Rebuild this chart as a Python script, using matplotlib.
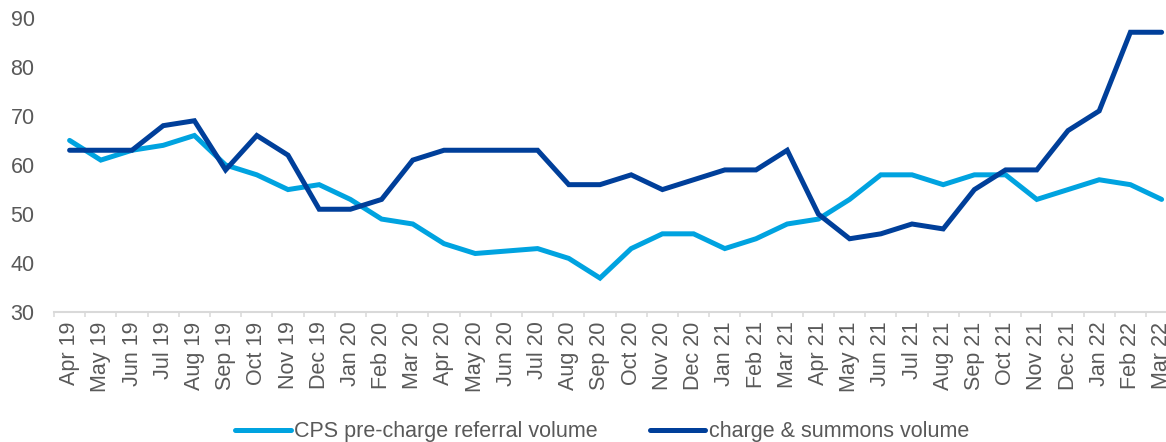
import matplotlib.pyplot as plt
import numpy as np
from matplotlib.ticker import FixedLocator

# Monthly volumes, Apr 2019 - Mar 2022
months = ['Apr 19', 'May 19', 'Jun 19', 'Jul 19', 'Aug 19', 'Sep 19',
          'Oct 19', 'Nov 19', 'Dec 19', 'Jan 20', 'Feb 20', 'Mar 20',
          'Apr 20', 'May 20', 'Jun 20', 'Jul 20', 'Aug 20', 'Sep 20',
          'Oct 20', 'Nov 20', 'Dec 20', 'Jan 21', 'Feb 21', 'Mar 21',
          'Apr 21', 'May 21', 'Jun 21', 'Jul 21', 'Aug 21', 'Sep 21',
          'Oct 21', 'Nov 21', 'Dec 21', 'Jan 22', 'Feb 22', 'Mar 22']

cps_referrals = [65, 61, 63, 64, 66, 60, 58, 55, 56, 53, 49, 48,
                 44, 42, 42.5, 43, 41, 37, 43, 46, 46, 43, 45, 48,
                 49, 53, 58, 58, 56, 58, 58, 53, 55, 57, 56, 53]

charge_summons = [63, 63, 63, 68, 69, 59, 66, 62, 51, 51, 53, 61,
                  63, 63, 63, 63, 56, 56, 58, 55, 57, 59, 59, 63,
                  50, 45, 46, 48, 47, 55, 59, 59, 67, 71, 87, 87]

light_blue = '#00A3E0'
dark_blue = '#003F9A'
text_grey = '#595959'
axis_grey = '#D9D9D9'

plt.rcParams['font.family'] = ['Liberation Sans', 'DejaVu Sans']

fig = plt.figure(figsize=(11.66, 4.42), dpi=100)
ax = fig.add_axes([54 / 1166, 0.293, 36 * 31.2 / 1166, 0.6674])

x = np.arange(len(months))
ax.plot(x, cps_referrals, color=light_blue, lw=3.6, solid_capstyle='round',
        solid_joinstyle='miter', label='CPS pre-charge referral volume')
ax.plot(x, charge_summons, color=dark_blue, lw=3.6, solid_capstyle='round',
        solid_joinstyle='miter', label='charge & summons volume')

ax.set_xlim(-0.5, len(months) - 0.5)
ax.set_ylim(30, 90)
ax.set_yticks(range(30, 91, 10))

# Category labels at centres, tick marks between categories
ax.set_xticks(x)
ax.set_xticklabels(months, rotation=90, fontsize=15.5, color=text_grey)
ax.xaxis.set_minor_locator(FixedLocator(np.arange(-0.5, len(months), 1)))
ax.tick_params(axis='x', which='major', length=0, pad=6.5)
ax.tick_params(axis='x', which='minor', length=3.8, width=1.1, color=axis_grey)
ax.tick_params(axis='y', length=0, pad=14, labelsize=15.5, labelcolor=text_grey)

for side in ['top', 'right', 'left']:
    ax.spines[side].set_visible(False)
ax.spines['bottom'].set_color(axis_grey)
ax.spines['bottom'].set_linewidth(1.5)

fig.legend(loc='center', bbox_to_anchor=(602 / 1166, 10 / 442), ncol=2,
           frameon=False, fontsize=15.5, handlelength=2.6, handletextpad=0.15,
           columnspacing=2.4, labelcolor=text_grey)

fig.savefig('out.png', dpi=100)
